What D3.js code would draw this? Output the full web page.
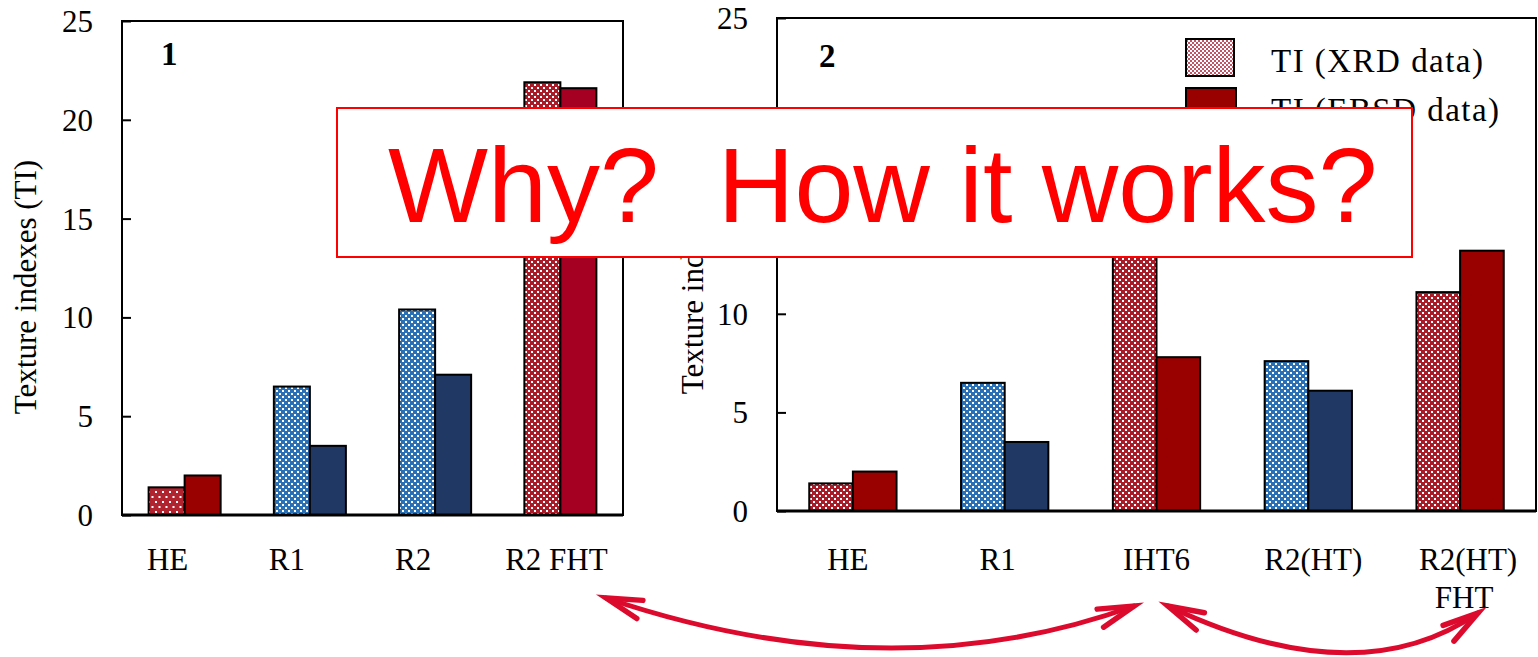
<!DOCTYPE html>
<html><head><meta charset="utf-8">
<script src="https://cdn.jsdelivr.net/npm/d3@7"></script>
<style>
html,body{margin:0;padding:0;background:#fff;overflow:hidden}
text{font-family:"Liberation Serif","Times New Roman",serif;fill:#000}
</style></head>
<body><svg id="c" width="1538" height="657"></svg>
<script>
// ---------------- data ----------------
const categories1 = ["HE", "R1", "R2", "R2 FHT"];
const xrd1  = [1.4, 6.5, 10.4, 21.9];
const ebsd1 = [2.0, 3.5, 7.1, 21.6];

const categories2 = ["HE", "R1", "IHT6", "R2(HT)", "R2(HT)\nFHT"];
const xrd2  = [1.4, 6.5, 17.0, 7.6, 11.1];   // IHT6 XRD top hidden behind the overlay; estimated
const ebsd2 = [2.0, 3.5, 7.8, 6.1, 13.2];

const yTicks = [0, 5, 10, 15, 20, 25];
const seriesNames = ["TI (XRD data)", "TI (EBSD data)"];
const yTitle = "Texture indexes (TI)";
const panelLabels = ["1", "2"];
const overlayText = "Why?  How it works?";

// ---------------- styles / layout ----------------
const RED_PAT = "#a81c2a", BLUE_PAT = "#2a70b4";
const EBSD_RED = "#990000", EBSD_CRIMSON = "#a50021", NAVY = "#203864";
const ARROW = "#dc0a2d";

const svg = d3.select("#c");
const defs = svg.append("defs");

function checker(id, color, tile, w) {
  const p = defs.append("pattern").attr("id", id).attr("patternUnits", "userSpaceOnUse")
    .attr("width", tile).attr("height", tile);
  p.append("rect").attr("width", tile).attr("height", tile).attr("fill", color);
  p.append("rect").attr("x", 0).attr("y", 0).attr("width", w).attr("height", w).attr("fill", "#fff")
    .attr("shape-rendering", "crispEdges");
  p.append("rect").attr("x", tile / 2).attr("y", tile / 2).attr("width", w).attr("height", w).attr("fill", "#fff")
    .attr("shape-rendering", "crispEdges");
}
checker("checkRed", RED_PAT, 6, 2);
checker("checkBlue", BLUE_PAT, 6, 2);
checker("legendPink", "#c25565", 4, 1.6);
{
  const p = defs.append("pattern").attr("id", "dotsRed").attr("patternUnits", "userSpaceOnUse")
    .attr("width", 7).attr("height", 10);
  p.append("rect").attr("width", 7).attr("height", 10).attr("fill", "#b0232f");
  p.append("rect").attr("x", 1).attr("y", 1).attr("width", 2).attr("height", 2).attr("fill", "#fff");
  p.append("rect").attr("x", 4.5).attr("y", 6).attr("width", 2).attr("height", 2).attr("fill", "#fff");
}

const panels = [
  { cats: categories1, xrd: xrd1, ebsd: ebsd1, left: 122, right: 623, top: 21, bottom: 515,
    xrdFill: ["url(#dotsRed)", "url(#checkBlue)", "url(#checkBlue)", "url(#checkRed)"],
    ebsdFill: [EBSD_RED, NAVY, NAVY, EBSD_CRIMSON],
    labelNudge: [-17, -23, -22, -4],
    titleX: 36, titleY: 287, label: panelLabels[0], labelX: 161, labelY: 65 },
  { cats: categories2, xrd: xrd2, ebsd: ebsd2, left: 777, right: 1536, top: 18, bottom: 511,
    xrdFill: ["url(#checkRed)", "url(#checkBlue)", "url(#checkRed)", "url(#checkBlue)", "url(#checkRed)"],
    ebsdFill: [EBSD_RED, NAVY, EBSD_RED, NAVY, EBSD_RED],
    labelNudge: [-5, -7, 0, 5, 8],
    titleX: 703, titleY: 267, label: panelLabels[1], labelX: 819, labelY: 67 }
];

const FS = 31;

panels.forEach(P => {
  const g = svg.append("g");
  const y = d3.scaleLinear().domain([0, 25]).range([P.bottom, P.top]);
  const x = d3.scaleBand().domain(P.cats).range([P.left, P.right])
    .paddingInner(0.425).paddingOuter(0.2125);
  const xs = d3.scaleBand().domain(["xrd", "ebsd"]).range([0, x.bandwidth()]);

  // bars
  const rows = P.cats.map((c, i) => ({ c, i, xrd: P.xrd[i], ebsd: P.ebsd[i] }));
  ["xrd", "ebsd"].forEach(s => {
    g.selectAll(null).data(rows).join("rect")
      .attr("x", d => x(d.c) + xs(s))
      .attr("y", d => y(d[s]))
      .attr("width", xs.bandwidth())
      .attr("height", d => y(0) - y(d[s]))
      .attr("fill", d => s === "xrd" ? P.xrdFill[d.i] : P.ebsdFill[d.i])
      .attr("stroke", "#000").attr("stroke-width", 2);
  });

  // frame
  g.append("rect").attr("x", P.left).attr("y", P.top)
    .attr("width", P.right - P.left).attr("height", P.bottom - P.top)
    .attr("fill", "none").attr("stroke", "#000").attr("stroke-width", 2);
  g.append("line").attr("x1", P.left).attr("x2", P.right).attr("y1", P.bottom).attr("y2", P.bottom)
    .attr("stroke", "#000").attr("stroke-width", 3);

  // y axis
  const ax = g.append("g").attr("transform", `translate(${P.left},0)`)
    .call(d3.axisLeft(y).tickValues(yTicks).tickSizeInner(-9).tickSizeOuter(0).tickPadding(29));
  ax.select(".domain").remove();
  ax.selectAll(".tick line").attr("stroke", "#000").attr("stroke-width", 2);
  ax.selectAll(".tick text").attr("font-size", FS).attr("font-family", '"Liberation Serif",serif')
    .attr("fill", "#000").attr("dy", "0.34em");

  // x category labels
  rows.forEach(d => {
    const lines = d.c.split("\n");
    const t = g.append("text").attr("text-anchor", "middle").attr("font-size", FS)
      .attr("x", x(d.c) + x.bandwidth() / 2 + P.labelNudge[d.i]).attr("y", 570);
    lines.forEach((ln, k) => {
      t.append("tspan").attr("x", x(d.c) + x.bandwidth() / 2 + P.labelNudge[d.i] + (k ? -4 : 0))
        .attr("y", 570 + k * 38).text(ln);
    });
  });

  // y title
  g.append("text").attr("transform", `translate(${P.titleX},${P.titleY}) rotate(-90)`)
    .attr("text-anchor", "middle").attr("font-size", FS).text(yTitle);

  // panel number
  g.append("text").attr("x", P.labelX).attr("y", P.labelY).attr("font-size", 33)
    .attr("font-weight", "bold").text(P.label);
});

// legend (panel 2)
const lg = svg.append("g");
const legendFills = ["url(#legendPink)", EBSD_RED];
seriesNames.forEach((n, i) => {
  lg.append("rect").attr("x", 1186).attr("y", 39 + i * 49).attr("width", 48 + i * 2).attr("height", 37)
    .attr("fill", legendFills[i]).attr("stroke", "#000").attr("stroke-width", 2);
  lg.append("text").attr("x", 1271).attr("y", 72 + i * 49).attr("font-size", 33)
    .attr("textLength", i ? 228 : 212).attr("lengthAdjust", "spacing").text(n);
});

// overlay box
svg.append("rect").attr("x", 337).attr("y", 108).attr("width", 1075).attr("height", 149)
  .attr("fill", "#fff").attr("stroke", "#ff0000").attr("stroke-width", 2);
svg.append("text").attr("x", 388).attr("y", 222).attr("font-size", 106)
  .style("font-family", '"Liberation Sans",Arial,sans-serif').style("fill", "#ff0000")
  .style("white-space", "pre").attr("xml:space", "preserve").text(overlayText);

// curved double arrows
const arrows = [
  { p0: [606, 598], c: [890, 694], p2: [1134, 606] },
  { p0: [1168, 606], c: [1357, 696], p2: [1478, 613] }
];
arrows.forEach(a => {
  const path = d3.path();
  path.moveTo(a.p0[0], a.p0[1]);
  path.quadraticCurveTo(a.c[0], a.c[1], a.p2[0], a.p2[1]);
  svg.append("path").attr("d", path.toString()).attr("fill", "none")
    .attr("stroke", ARROW).attr("stroke-width", 5).attr("stroke-linecap", "round");
  [a.p0, a.p2].forEach(tip => {
    const dx = a.c[0] - tip[0], dy = a.c[1] - tip[1];
    const ang = Math.atan2(dy, dx), L = 37, sp = 15 * Math.PI / 180;
    const h = d3.path();
    h.moveTo(tip[0] + L * Math.cos(ang + sp), tip[1] + L * Math.sin(ang + sp));
    h.lineTo(tip[0], tip[1]);
    h.lineTo(tip[0] + L * Math.cos(ang - sp), tip[1] + L * Math.sin(ang - sp));
    svg.append("path").attr("d", h.toString()).attr("fill", "none").attr("stroke", ARROW)
      .attr("stroke-width", 5.5).attr("stroke-linecap", "round").attr("stroke-linejoin", "miter");
  });
});
</script></body></html>
